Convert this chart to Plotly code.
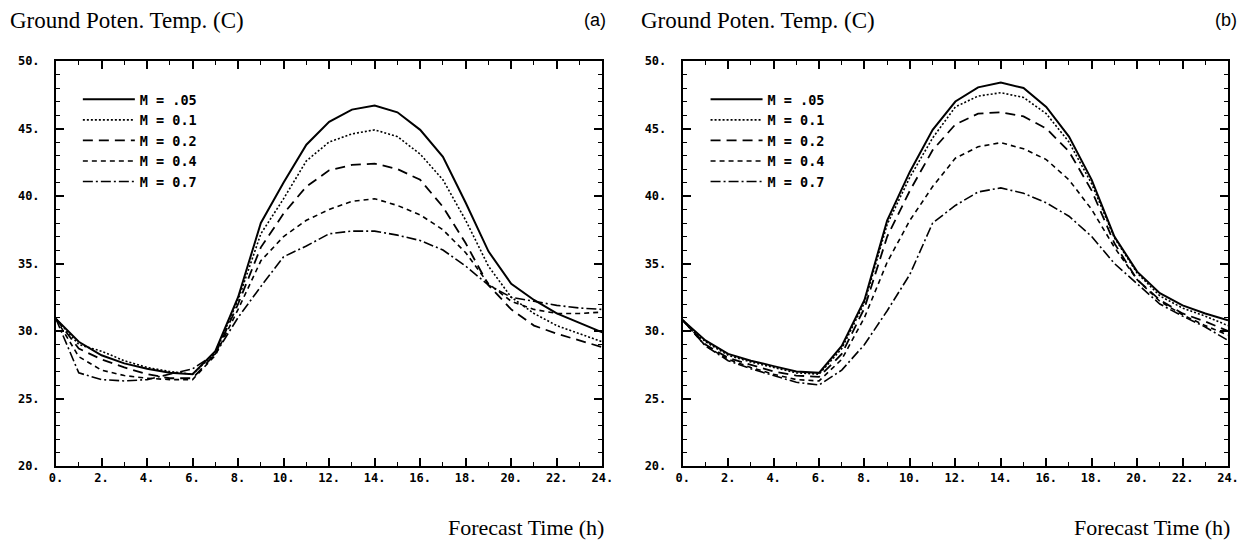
import plotly.graph_objects as go

# ---------------- data ----------------
hours = list(range(25))
series_names = ["M = .05", "M = 0.1", "M = 0.2", "M = 0.4", "M = 0.7"]

# panel (a)
a_m005 = [30.9, 29.2, 28.2, 27.6, 27.2, 26.9, 26.8, 28.5, 32.5, 38.0, 41.0, 43.8, 45.5, 46.4, 46.7,
          46.2, 44.9, 42.9, 39.5, 35.9, 33.5, 32.3, 31.3, 30.6, 29.9]
a_m01 = [30.9, 29.0, 28.5, 27.8, 27.3, 27.0, 26.8, 28.4, 32.3, 37.2, 39.8, 42.6, 44.0, 44.6, 44.9,
         44.4, 43.1, 41.2, 38.2, 34.8, 32.5, 31.3, 30.4, 29.8, 29.2]
a_m02 = [30.9, 28.7, 27.9, 27.3, 26.8, 26.5, 26.5, 28.3, 32.0, 36.2, 38.7, 40.7, 41.9, 42.3, 42.4,
         42.0, 41.2, 39.2, 36.5, 33.4, 31.6, 30.4, 29.8, 29.3, 28.8]
a_m04 = [30.9, 28.1, 27.1, 26.7, 26.5, 26.4, 26.4, 28.2, 31.6, 35.2, 37.0, 38.2, 39.0, 39.6, 39.8,
         39.3, 38.6, 37.5, 35.8, 33.5, 32.2, 31.6, 31.3, 31.3, 31.4]
a_m07 = [30.9, 26.9, 26.4, 26.3, 26.4, 26.8, 27.2, 28.3, 31.0, 33.3, 35.5, 36.3, 37.2, 37.4, 37.4,
         37.1, 36.7, 36.0, 34.8, 33.4, 32.5, 32.2, 31.9, 31.7, 31.6]

# panel (b)
b_m005 = [30.8, 29.3, 28.3, 27.8, 27.4, 27.0, 26.9, 28.9, 32.3, 38.2, 41.8, 44.9, 47.0, 48.05, 48.4,
          48.0, 46.6, 44.4, 41.2, 37.0, 34.4, 32.8, 31.9, 31.3, 30.8]
b_m01 = [30.8, 29.2, 28.2, 27.7, 27.3, 26.9, 26.8, 28.7, 32.1, 37.9, 41.4, 44.3, 46.6, 47.4, 47.65,
         47.3, 46.1, 44.0, 40.9, 36.9, 34.3, 32.6, 31.7, 31.1, 30.4]
b_m02 = [30.8, 29.0, 28.0, 27.5, 27.0, 26.7, 26.6, 28.3, 31.7, 37.0, 40.4, 43.4, 45.3, 46.1, 46.2,
         45.9, 45.0, 43.3, 40.4, 36.5, 33.8, 32.3, 31.3, 30.7, 30.0]
b_m04 = [30.8, 28.9, 27.9, 27.3, 26.8, 26.4, 26.3, 27.9, 31.0, 35.1, 38.2, 40.7, 42.8, 43.65, 43.95,
         43.5, 42.7, 41.2, 39.0, 36.2, 33.8, 32.2, 31.2, 30.4, 29.7]
b_m07 = [30.8, 28.9, 27.8, 27.2, 26.7, 26.2, 26.0, 27.1, 29.0, 31.5, 34.2, 38.0, 39.3, 40.3, 40.6,
         40.2, 39.5, 38.5, 37.0, 35.0, 33.5, 32.0, 31.1, 30.3, 29.3]

x_range = [0, 24]
y_range = [20, 50]
x_major_step, x_minor_step = 2, 1
y_major_step, y_minor_step = 5, 1

panel_titles = ["(a)", "(b)"]
y_title = "Ground Poten. Temp. (C)"
x_title = "Forecast Time (h)"

# ---------------- styling ----------------
W, H = 1251, 544
ML, MR, MT, MB = 56, 15, 61, 78
PW = W - ML - MR
PH = H - MT - MB

def px_x(p):
    return (p - ML) / PW

def px_y(p):
    return (H - MB - p) / PH

dash_styles = ["solid", "2px,2px", "10px,6px", "5px,4px", "10px,3px,2px,3px"]
widths = [2, 1.6, 1.8, 1.6, 1.6]

mono = "DejaVu Sans Mono"
serif = "Liberation Serif"

fig = go.Figure()
panels = [
    ("x", "y", "legend", [a_m005, a_m01, a_m02, a_m04, a_m07]),
    ("x2", "y2", "legend2", [b_m005, b_m01, b_m02, b_m04, b_m07]),
]
for xa, ya, lg, series in panels:
    for name, vals, dsh, w in zip(series_names, series, dash_styles, widths):
        fig.add_trace(go.Scatter(
            x=hours, y=vals, mode="lines", name=name,
            line=dict(color="black", width=w, dash=dsh),
            xaxis=xa, yaxis=ya, legend=lg,
        ))

dom_a = [0, px_x(606)]
dom_b = [px_x(687), 1]

tickfont = dict(family=mono, size=12, color="black")

def axis_cfg(rng, major, minor, extra=None):
    cfg = dict(
        range=rng, tickmode="linear", tick0=rng[0], dtick=major,
        tickprefix="<b>", ticksuffix=".</b>",
        showline=True, linecolor="black", linewidth=2, mirror="allticks",
        ticks="inside", ticklen=8, tickwidth=1.5, tickcolor="black",
        minor=dict(ticks="inside", dtick=minor, ticklen=4, tickwidth=1.2, tickcolor="black"),
        showgrid=False, zeroline=False, tickfont=tickfont,
    )
    if extra:
        cfg.update(extra)
    return cfg

legend_common = dict(
    bgcolor="rgba(0,0,0,0)", borderwidth=0,
    font=dict(family=mono, size=13.5, color="black", weight="bold"),
    itemwidth=52, yanchor="top", xanchor="left", tracegroupgap=0,
)

fig.update_layout(
    width=W, height=H,
    margin=dict(l=ML, r=MR, t=MT, b=MB),
    paper_bgcolor="white", plot_bgcolor="white",
    xaxis=dict(domain=dom_a, anchor="y", **axis_cfg(x_range, x_major_step, x_minor_step)),
    yaxis=dict(domain=[0, 1], anchor="x",
               **axis_cfg(y_range, y_major_step, y_minor_step, dict(ticklabelstandoff=12))),
    xaxis2=dict(domain=dom_b, anchor="y2", **axis_cfg(x_range, x_major_step, x_minor_step)),
    yaxis2=dict(domain=[0, 1], anchor="x2",
                **axis_cfg(y_range, y_major_step, y_minor_step, dict(ticklabelstandoff=12))),
    legend=dict(x=px_x(78), y=px_y(84), **legend_common),
    legend2=dict(x=px_x(710), y=px_y(84), **legend_common),
    showlegend=True,
)

ann = []
for left_px, right_px, ptitle in [(8, 612, panel_titles[0]), (643, 1247, panel_titles[1])]:
    ann.append(dict(text=y_title, x=px_x(left_px), y=px_y(20), xref="paper", yref="paper",
                    xanchor="left", yanchor="middle", showarrow=False,
                    font=dict(family=serif, size=23, color="black")))
    ann.append(dict(text=ptitle, x=px_x(right_px), y=px_y(20), xref="paper", yref="paper",
                    xanchor="right", yanchor="middle", showarrow=False,
                    font=dict(family="Liberation Sans", size=18, color="black")))
for right_px in [610, 1240]:
    ann.append(dict(text=x_title, x=px_x(right_px), y=px_y(527), xref="paper", yref="paper",
                    xanchor="right", yanchor="middle", showarrow=False,
                    font=dict(family=serif, size=22, color="black")))
fig.update_layout(annotations=ann)

fig.write_html("out.html")
